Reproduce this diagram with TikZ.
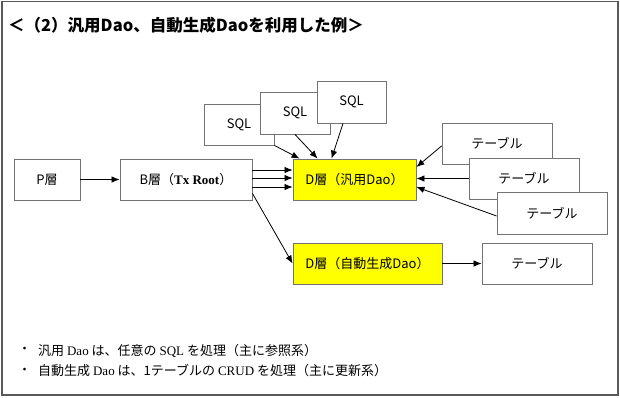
\documentclass[tikz,border=0pt]{standalone}
\usepackage{fontspec}
\setmainfont{Noto Sans CJK JP}
\newfontfamily\latinserif{Liberation Serif}
\usetikzlibrary{arrows.meta,calc}
\definecolor{frame}{gray}{0.35}
\definecolor{boxline}{gray}{0.45}
\definecolor{dyellow}{RGB}{255,255,0}
\tikzset{
  box/.style={draw=boxline,line width=0.9pt,fill=white,inner sep=0pt,
    font=\fontsize{13}{15}\selectfont},
  dbox/.style={box,fill=dyellow},
  arr/.style={-{Latex[length=8pt,width=6.5pt]},line width=0.8pt,black},
  note/.style={inner sep=0pt,font=\fontsize{13}{15}\selectfont},
}
\begin{document}
\begin{tikzpicture}[x=1pt,y=-1pt]
\useasboundingbox (0,0) rectangle (620,397);
\draw[frame,line width=1.6pt] (2,1.5) rectangle (618,395);
% title
\node[anchor=west,inner sep=0pt,font=\fontsize{16.5}{18}\selectfont\bfseries] (title) at (8,25) {＜（2）汎用Dao、自動生成Daoを利用した例＞};
% boxes
\node[box,minimum width=66,minimum height=41] (P) at (47,179.5) {P層};
\node[box,minimum width=132,minimum height=41] (B) at (186,179.5) {B層（{\latinserif\bfseries Tx Root}）};
\node[box,minimum width=70,minimum height=41] (S1) at (239,124.5) {SQL};
\node[box,minimum width=70,minimum height=42] (S2) at (295,113) {SQL};
\node[box,minimum width=69,minimum height=42] (S3) at (351.5,102) {SQL};
\node[dbox,minimum width=123,minimum height=41] (D1) at (354.5,179.5) {D層（汎用Dao）};
\node[dbox,minimum width=149,minimum height=41] (D2) at (367.5,263.5) {D層（自動生成Dao）};
\node[box,minimum width=110,minimum height=41] (T1) at (497,143.5) {テーブル};
\node[box,minimum width=110,minimum height=41] (T2) at (524,178.5) {テーブル};
\node[box,minimum width=110,minimum height=42] (T3) at (552,213) {テーブル};
\node[box,minimum width=110,minimum height=41] (T4) at (537,263.5) {テーブル};
% arrows
\draw[arr] (P.east) -- (B.west);
\draw[arr] ($(B.east)+(0,-9.5)$) -- ($(D1.west)+(0,-9.5)$);
\draw[arr] ($(B.east)+(0,-1.5)$) -- ($(D1.west)+(0,-1.5)$);
\draw[arr] ($(B.east)+(0,7.5)$) -- ($(D1.west)+(0,7.5)$);
\draw[arr] ($(B.south east)+(0,-7)$) -- (D2.west);
\draw[arr] (S1.south east) -- ($(D1.north west)+(7,0)$);
\draw[arr] (S2.south) -- ($(D1.north west)+(25,0)$);
\draw[arr] ($(S3.south)+(-8.5,0)$) -- ($(D1.north west)+(39,0)$);
\draw[arr] ($(T1.west)+(0,2.5)$) -- ($(D1.east)+(0,-12.5)$);
\draw[arr] (T2.west) -- (D1.east |- T2.west);
\draw[arr] ($(T3.west)+(0,3)$) -- ($(D1.east)+(0,7.5)$);
\draw[arr] (D2.east) -- (T4.west);
% notes
\node[note] (b1) at (24.5,350.5) {・};
\node[note,anchor=west] (n1) at (38,350.5) {汎用 {\latinserif Dao} は、任意の {\latinserif SQL} を処理（主に参照系）};
\node[note] (b2) at (24.5,371) {・};
\node[note,anchor=west] (n2) at (38,371) {自動生成 {\latinserif Dao} は、1テーブルの {\latinserif CRUD} を処理（主に更新系）};
\end{tikzpicture}
\end{document}
